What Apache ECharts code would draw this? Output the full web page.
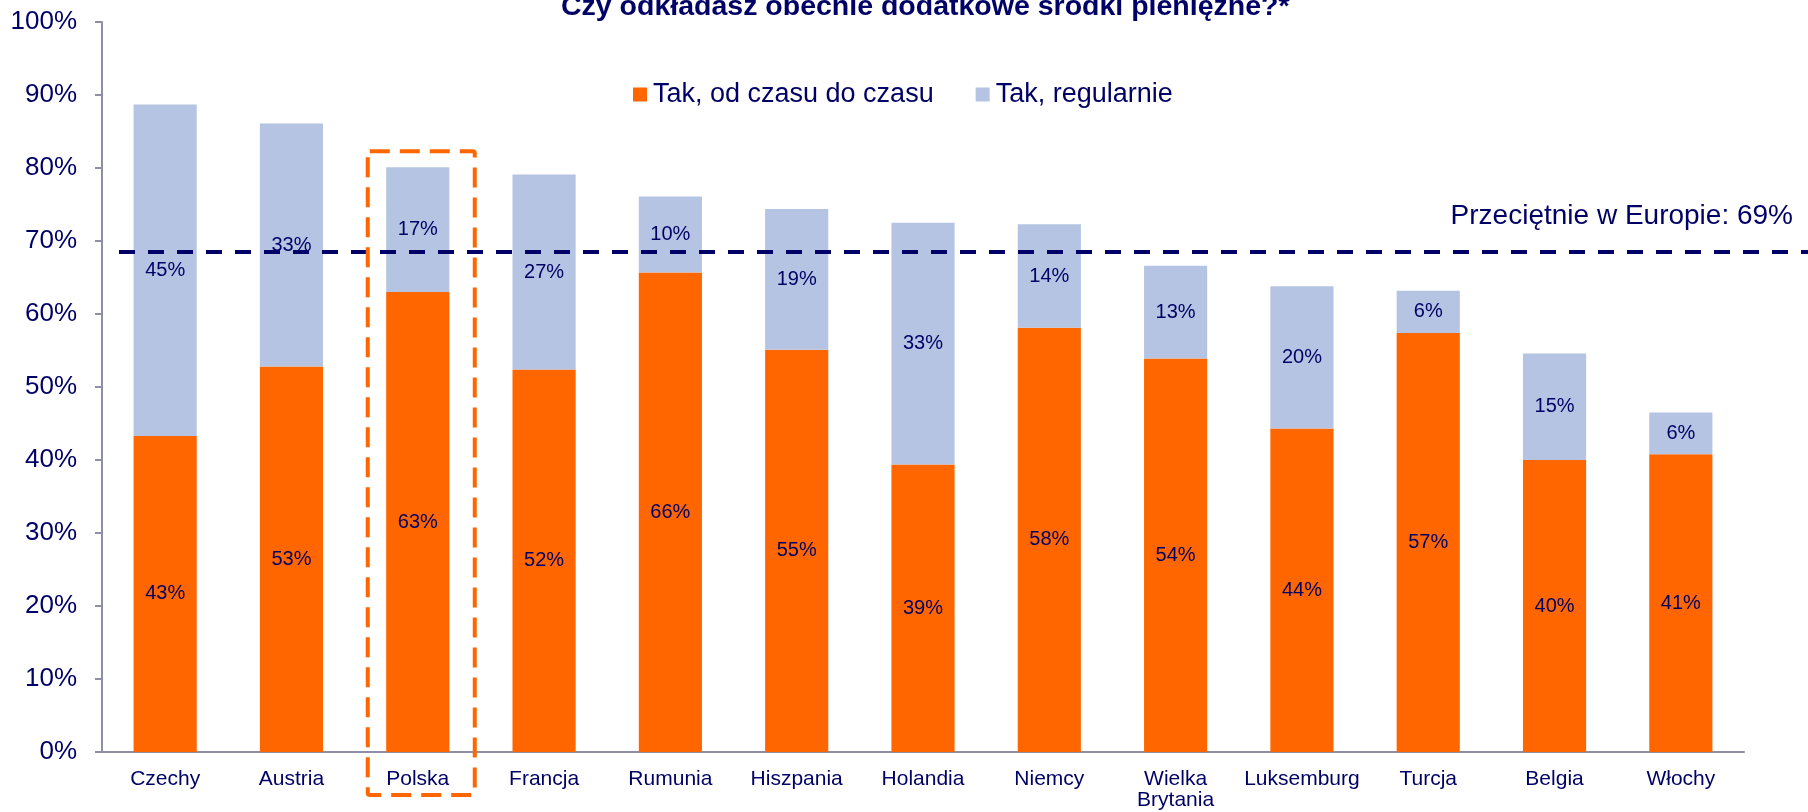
<!DOCTYPE html>
<html>
<head>
<meta charset="utf-8">
<script src="https://cdn.jsdelivr.net/npm/echarts@6/dist/echarts.min.js"></script>
<style>
html,body{margin:0;padding:0;background:#fff;}
#c{width:1808px;height:812px;}
</style>
</head>
<body>
<div id="c"></div>
<script>
var categories = ['Czechy','Austria','Polska','Francja','Rumunia','Hiszpania','Holandia','Niemcy','Wielka\nBrytania','Luksemburg','Turcja','Belgia','Włochy'];
var occasionally = [43.3, 52.8, 63.0, 52.4, 65.7, 55.1, 39.4, 58.1, 53.9, 44.3, 57.4, 40.0, 40.8];
var regularly = [45.4, 33.3, 17.1, 26.7, 10.4, 19.3, 33.1, 14.2, 12.7, 19.5, 5.8, 14.6, 5.7];
var seriesNames = ['Tak, od czasu do czasu', 'Tak, regularnie'];
var europeAverage = 68.5;
var averageText = 'Przeciętnie w Europie: ';
var highlightCategory = 'Polska';
var yTicks = [0, 100, 10];
var titleText = 'Czy odkładasz obecnie dodatkowe środki pieniężne?*';

var NAVY = '#000066';
var FONT = 'Arial, "Liberation Sans", sans-serif';
var chart = echarts.init(document.getElementById('c'), null, {renderer: 'canvas'});

var labelCfg = {
  show: true, position: 'inside', color: NAVY, fontSize: 20, fontFamily: FONT,
  formatter: function (p) { return Math.round(p.value) + '%'; }
};

chart.setOption({
  animation: false,
  backgroundColor: '#ffffff',
  textStyle: {fontFamily: FONT},
  title: {
    text: titleText, left: 556, top: -12,
    textStyle: {color: NAVY, fontSize: 28.5, fontWeight: 'bold', fontFamily: FONT}
  },
  legend: {
    data: seriesNames, left: 633, top: 81, icon: 'rect', itemWidth: 14, itemHeight: 14,
    itemGap: 42, padding: 0,
    textStyle: {color: NAVY, fontSize: 27, fontFamily: FONT, padding: [0, 0, 0, 1]}
  },
  grid: [
    {left: 102, right: 64, top: 22, bottom: 60},
    {left: 119, right: 0, top: 22, bottom: 60}
  ],
  xAxis: [
    {
      type: 'category', data: categories, gridIndex: 0,
      axisLine: {lineStyle: {color: '#8E8EA6', width: 2}},
      axisTick: {show: false},
      axisLabel: {color: NAVY, fontSize: 21, fontFamily: FONT, margin: 17, lineHeight: 21, interval: 0}
    },
    {type: 'value', gridIndex: 1, min: 0, max: 1, show: false}
  ],
  yAxis: [
    {
      type: 'value', gridIndex: 0, min: yTicks[0], max: yTicks[1], interval: yTicks[2],
      axisLine: {show: true, lineStyle: {color: '#8E8EA6', width: 2}},
      axisTick: {show: true, length: 7, lineStyle: {color: '#8E8EA6', width: 2}},
      splitLine: {show: false},
      axisLabel: {color: NAVY, fontSize: 26, fontFamily: FONT, margin: 25, formatter: '{value}%'}
    },
    {type: 'value', gridIndex: 1, min: yTicks[0], max: yTicks[1], show: false}
  ],
  series: [
    {
      name: seriesNames[0], type: 'bar', stack: 'a', data: occasionally, barWidth: '50%',
      itemStyle: {color: '#FF6600'}, label: labelCfg, z: 2
    },
    {
      name: seriesNames[1], type: 'bar', stack: 'a', data: regularly, barWidth: '50%',
      itemStyle: {color: '#B4C4E2'}, label: labelCfg, z: 2
    },
    {
      type: 'line', xAxisIndex: 1, yAxisIndex: 1,
      data: [[0, europeAverage], [1, europeAverage]],
      symbol: 'none', silent: true, z: 10,
      lineStyle: {color: NAVY, width: 4, type: [16, 13], cap: 'butt'}
    }
  ]
});

var cx = chart.convertToPixel({xAxisIndex: 0}, highlightCategory);
var yTop = chart.convertToPixel({yAxisIndex: 0}, 82.3);
var y0 = chart.convertToPixel({yAxisIndex: 0}, 0);
var yAvg = chart.convertToPixel({yAxisIndex: 0}, europeAverage);

chart.setOption({
  graphic: [
    {
      type: 'rect', z: 20,
      shape: {x: cx - 50, y: yTop, width: 107, height: (y0 + 43) - yTop, r: 2},
      style: {fill: 'none', stroke: '#FF6600', lineWidth: 4, lineDash: [20, 10]}
    },
    {
      type: 'text', z: 20, right: 15, top: yAvg - 50,
      style: {text: averageText + Math.round(europeAverage) + '%', fill: NAVY, fontSize: 28, fontFamily: FONT}
    }
  ]
});
</script>
</body>
</html>
